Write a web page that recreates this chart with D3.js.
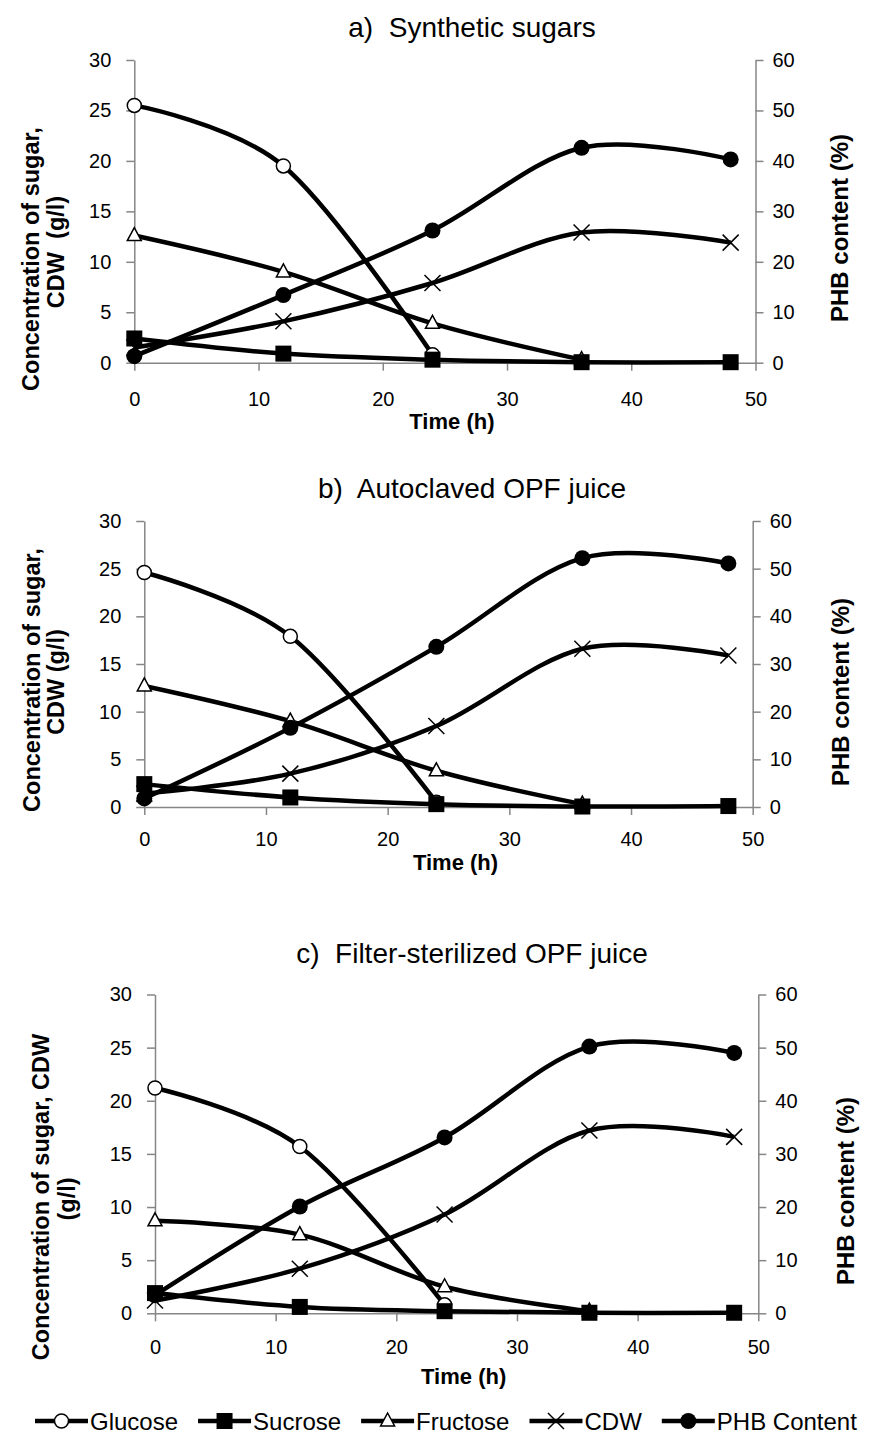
<!DOCTYPE html>
<html>
<head>
<meta charset="utf-8">
<script src="https://cdn.jsdelivr.net/npm/d3@7"></script>
<style>
body { margin: 0; background: #fff; }
svg { display: block; }
text { font-family: "Liberation Sans", Arial, sans-serif; fill: #000; }
</style>
</head>
<body>
<svg id="chart" width="870" height="1435"></svg>
<script>
var hours = [0, 12, 24, 36, 48];
var seriesNames = ["Glucose", "Sucrose", "Fructose", "CDW", "PHB Content"];
var xTicks = [0, 10, 20, 30, 40, 50];
var leftTicks = [0, 5, 10, 15, 20, 25, 30];
var rightTicks = [0, 10, 20, 30, 40, 50, 60];

// a) synthetic sugars  (null = no point plotted)
var glucoseA = [25.5, 19.5, 0.8, null, null];
var sucroseA = [2.4, 0.9, 0.3, 0.05, 0.05];
var fructoseA = [12.6, 9.0, 3.9, 0.3, null];
var cdwA = [1.5, 4.1, 7.9, 12.9, 11.9];
var phbA = [1.3, 13.4, 26.2, 42.6, 40.3];

// b) autoclaved OPF juice
var glucoseB = [24.6, 17.9, 0.5, null, null];
var sucroseB = [2.4, 1.0, 0.3, 0.05, 0.1];
var fructoseB = [12.7, 9.0, 3.8, 0.3, null];
var cdwB = [1.4, 3.5, 8.5, 16.6, 15.9];
var phbB = [1.8, 16.6, 33.6, 52.2, 51.1];

// c) filter-sterilized OPF juice
var glucoseC = [21.2, 15.7, 0.8, null, null];
var sucroseC = [1.9, 0.6, 0.2, 0.05, 0.05];
var fructoseC = [8.7, 7.4, 2.5, 0.2, null];
var cdwC = [1.2, 4.2, 9.3, 17.2, 16.6];
var phbC = [3.4, 20.1, 33.1, 50.2, 49.0];

var markers = ["circleOpen", "square", "triangle", "cross", "circleFilled"];
var drawOrder = [0, 2, 3, 1, 4];
var axisColor = "#868686";

var panels = [
    {title: "a)  Synthetic sugars", left: 134.3, right: 755.5, top: 60, bottom: 362.7,
     titleY: 27, tickLabY: 399, timeY: 421,
     yLab: ["Concentration of sugar,", "CDW  (g/l)"], yLabX: [31, 56], yLabY: [259, 252],
     rLabX: 839, rLabY: 228,
     series: [glucoseA, sucroseA, fructoseA, cdwA, phbA]},
    {title: "b)  Autoclaved OPF juice", left: 144.3, right: 752.7, top: 521, bottom: 807,
     titleY: 488, tickLabY: 839, timeY: 862,
     yLab: ["Concentration of sugar,", "CDW (g/l)"], yLabX: [32, 56], yLabY: [680, 682],
     rLabX: 840, rLabY: 692,
     series: [glucoseB, sucroseB, fructoseB, cdwB, phbB]},
    {title: "c)  Filter-sterilized OPF juice", left: 155, right: 758.3, top: 994.5, bottom: 1313.3,
     titleY: 953, tickLabY: 1347, timeY: 1376,
     yLab: ["Concentration of sugar, CDW", "(g/l)"], yLabX: [41, 67], yLabY: [1197, 1199],
     rLabX: 845, rLabY: 1191,
     series: [glucoseC, sucroseC, fructoseC, cdwC, phbC]}
];

var svg = d3.select("#chart");
var smooth = d3.line()
    .defined(function(d) { return d[1] != null; })
    .curve(d3.curveCatmullRom.alpha(0));

function drawMarker(sel, type, cx, cy) {
    if (type == "circleOpen") {
        sel.append("circle").attr("cx", cx).attr("cy", cy).attr("r", 7)
            .attr("fill", "#fff").attr("stroke", "#000").attr("stroke-width", 1.5);
    } else if (type == "circleFilled") {
        sel.append("circle").attr("cx", cx).attr("cy", cy).attr("r", 8).attr("fill", "#000");
    } else if (type == "square") {
        sel.append("rect").attr("x", cx - 8).attr("y", cy - 8)
            .attr("width", 16).attr("height", 16).attr("fill", "#000");
    } else if (type == "triangle") {
        sel.append("path")
            .attr("d", "M" + cx + "," + (cy - 8) + "L" + (cx + 7) + "," + (cy + 5) + "L" + (cx - 7) + "," + (cy + 5) + "Z")
            .attr("fill", "#fff").attr("stroke", "#000").attr("stroke-width", 1.5);
    } else if (type == "cross") {
        sel.append("path")
            .attr("d", "M" + (cx - 8) + "," + (cy - 8) + "L" + (cx + 8) + "," + (cy + 8) +
                       "M" + (cx - 8) + "," + (cy + 8) + "L" + (cx + 8) + "," + (cy - 8))
            .attr("fill", "none").attr("stroke", "#000").attr("stroke-width", 1.5);
    }
}

function styleAxis(g) {
    g.selectAll("path, line").attr("stroke", axisColor).attr("stroke-width", 1.5);
    g.selectAll("text").style("font-size", "20px").attr("fill", "#000");
}

panels.forEach(function(p) {
    var x = d3.scaleLinear().domain([0, 50]).range([p.left, p.right]);
    var yL = d3.scaleLinear().domain([0, 30]).range([p.bottom, p.top]);
    var yR = d3.scaleLinear().domain([0, 60]).range([p.bottom, p.top]);
    var g = svg.append("g");

    g.append("text")
        .attr("x", 472).attr("y", p.titleY)
        .attr("text-anchor", "middle").attr("dominant-baseline", "central")
        .style("white-space", "pre").style("font-size", "28px")
        .text(p.title);

    g.append("g")
        .attr("transform", "translate(" + p.left + ",0)")
        .call(d3.axisLeft(yL).tickValues(leftTicks).tickSize(8).tickSizeOuter(0).tickPadding(15))
        .call(styleAxis);
    g.append("g")
        .attr("transform", "translate(" + p.right + ",0)")
        .call(d3.axisRight(yR).tickValues(rightTicks).tickSize(8).tickSizeOuter(0).tickPadding(9))
        .call(styleAxis);
    var xg = g.append("g")
        .attr("transform", "translate(0," + p.bottom + ")")
        .call(d3.axisBottom(x).tickValues(xTicks).tickSize(8).tickSizeOuter(0))
        .call(styleAxis);
    xg.selectAll("text")
        .attr("y", p.tickLabY - p.bottom).attr("dy", null)
        .attr("dominant-baseline", "central");

    g.append("text")
        .attr("x", (p.left + p.right) / 2 + 7).attr("y", p.timeY)
        .attr("text-anchor", "middle").attr("dominant-baseline", "central")
        .style("font-size", "22px").style("font-weight", "bold")
        .text("Time (h)");

    p.yLab.forEach(function(t, i) {
        g.append("text")
            .attr("transform", "translate(" + p.yLabX[i] + "," + p.yLabY[i] + ") rotate(-90)")
            .attr("text-anchor", "middle").attr("dominant-baseline", "central")
            .style("white-space", "pre").style("font-size", "23.5px").style("font-weight", "bold")
            .text(t);
    });
    g.append("text")
        .attr("transform", "translate(" + p.rLabX + "," + p.rLabY + ") rotate(-90)")
        .attr("text-anchor", "middle").attr("dominant-baseline", "central")
        .style("font-size", "24px").style("font-weight", "bold")
        .text("PHB content (%)");

    drawOrder.forEach(function(s) {
        var vals = p.series[s];
        var y = s == 4 ? yR : yL;
        var pts = hours.map(function(h, i) { return [x(h), vals[i] == null ? null : y(vals[i])]; });
        g.append("path")
            .attr("d", smooth(pts))
            .attr("fill", "none").attr("stroke", "#000")
            .attr("stroke-width", 4.5).attr("stroke-linejoin", "round");
        var mg = g.append("g");
        pts.forEach(function(pt) {
            if (pt[1] != null) drawMarker(mg, markers[s], pt[0], pt[1]);
        });
    });
});

// legend
var legend = svg.append("g");
var lx = 35, ly = 1421;
seriesNames.forEach(function(name, i) {
    legend.append("line")
        .attr("x1", lx).attr("x2", lx + 53).attr("y1", ly).attr("y2", ly)
        .attr("stroke", "#000").attr("stroke-width", 4.5);
    drawMarker(legend, markers[i], lx + 26.5, ly);
    var t = legend.append("text")
        .attr("x", lx + 55).attr("y", ly)
        .attr("dominant-baseline", "central")
        .style("font-size", "24px")
        .text(name);
    lx += 55 + t.node().getComputedTextLength() + 20;
});
</script>
</body>
</html>
